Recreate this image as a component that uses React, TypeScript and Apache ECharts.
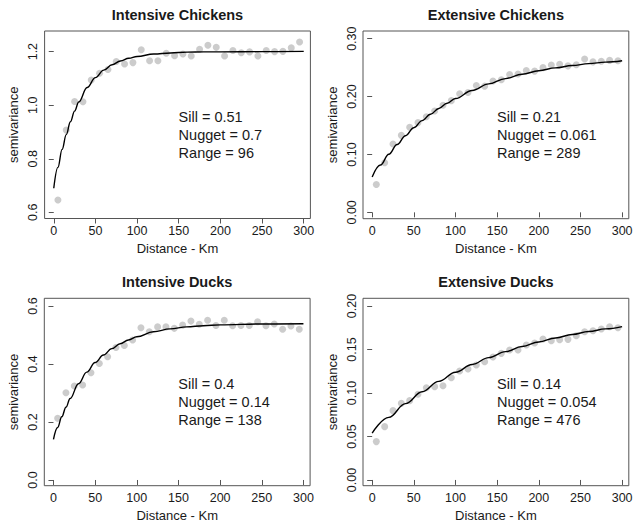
import React, { useEffect, useRef } from "react";
import * as echarts from "echarts";

const TITLES = ["Intensive Chickens", "Extensive Chickens", "Intensive Ducks", "Extensive Ducks"];
const ANNOTATIONS = [
  ["Sill = 0.51", "Nugget = 0.7", "Range = 96"],
  ["Sill = 0.21", "Nugget = 0.061", "Range = 289"],
  ["Sill = 0.4", "Nugget = 0.14", "Range = 138"],
  ["Sill = 0.14", "Nugget = 0.054", "Range = 476"],
];
const X_TICKS = [0, 50, 100, 150, 200, 250, 300];
const Y_TICKS = [
  [0.6, 0.8, 1.0, 1.2],
  [0, 0.1, 0.2, 0.3],
  [0, 0.2, 0.4, 0.6],
  [0, 0.05, 0.1, 0.15, 0.2],
];
const Y_DECIMALS = [1, 2, 1, 2];

const DIST = [5, 15, 25, 35, 45, 55, 65, 75, 85, 95, 105, 115, 125, 135, 145, 155, 165, 175, 185, 195, 205, 215, 225, 235, 245, 255, 265, 275, 285, 295];

const IC_GAMMA = [0.646, 0.907, 1.014, 1.013, 1.094, 1.119, 1.133, 1.163, 1.154, 1.159, 1.207, 1.166, 1.166, 1.194, 1.185, 1.191, 1.184, 1.209, 1.224, 1.216, 1.184, 1.204, 1.196, 1.199, 1.184, 1.204, 1.2, 1.201, 1.214, 1.236];
const EC_GAMMA = [0.048, 0.0858, 0.118, 0.133, 0.147, 0.155, 0.165, 0.175, 0.185, 0.193, 0.205, 0.207, 0.219, 0.218, 0.227, 0.229, 0.238, 0.239, 0.245, 0.244, 0.25, 0.2545, 0.256, 0.253, 0.255, 0.265, 0.26, 0.261, 0.2626, 0.262];
const ID_GAMMA = [0.2126, 0.301, 0.324, 0.3276, 0.37, 0.402, 0.425, 0.457, 0.464, 0.483, 0.525, 0.511, 0.528, 0.528, 0.523, 0.534, 0.548, 0.537, 0.551, 0.533, 0.551, 0.532, 0.533, 0.533, 0.546, 0.532, 0.538, 0.52, 0.531, 0.52];
const ED_GAMMA = [0.0441, 0.0613, 0.0797, 0.0881, 0.0912, 0.0985, 0.1061, 0.1073, 0.1084, 0.1176, 0.1253, 0.1276, 0.1322, 0.136, 0.1414, 0.1456, 0.1494, 0.1494, 0.1552, 0.1575, 0.162, 0.16, 0.1613, 0.1617, 0.1659, 0.1705, 0.1716, 0.1736, 0.1762, 0.1751];

const IC_FIT_X = [0, 5, 10, 15, 20, 25, 30, 40, 50, 60, 70, 80, 90, 100, 120, 140, 160, 180, 200, 250, 300];
const IC_FIT_Y = [0.69, 0.768, 0.835, 0.89, 0.938, 0.978, 1.012, 1.066, 1.103, 1.131, 1.151, 1.165, 1.175, 1.182, 1.191, 1.195, 1.198, 1.199, 1.199, 1.2, 1.201];
const EC_FIT_X = [0, 10, 20, 30, 40, 50, 60, 70, 80, 90, 100, 120, 140, 160, 180, 200, 220, 240, 260, 280, 300];
const EC_FIT_Y = [0.061, 0.0817, 0.1004, 0.1172, 0.1324, 0.1461, 0.1584, 0.1695, 0.1795, 0.1885, 0.1967, 0.2106, 0.2219, 0.2311, 0.2386, 0.2447, 0.2496, 0.2536, 0.2569, 0.2595, 0.262];
const ID_FIT_X = [0, 5, 10, 15, 20, 30, 40, 50, 60, 70, 80, 90, 100, 120, 140, 160, 180, 200, 250, 300];
const ID_FIT_Y = [0.14, 0.181, 0.218, 0.251, 0.281, 0.332, 0.372, 0.405, 0.431, 0.453, 0.47, 0.483, 0.494, 0.511, 0.521, 0.528, 0.532, 0.535, 0.538, 0.539];
const ED_FIT_X = [0, 20, 40, 60, 80, 100, 120, 140, 160, 180, 200, 220, 240, 260, 280, 300];
const ED_FIT_Y = [0.054, 0.072, 0.0878, 0.1014, 0.1134, 0.1238, 0.1328, 0.1407, 0.1476, 0.1535, 0.1587, 0.1633, 0.1672, 0.1707, 0.1737, 0.1763];

const GAMMAS = [IC_GAMMA, EC_GAMMA, ID_GAMMA, ED_GAMMA];
const FITS = [
  [IC_FIT_X, IC_FIT_Y],
  [EC_FIT_X, EC_FIT_Y],
  [ID_FIT_X, ID_FIT_Y],
  [ED_FIT_X, ED_FIT_Y],
];

// layout (pixels)
const GRIDS = [
  { left: 44.6, top: 31, width: 265.8, height: 187.5 },
  { left: 363, top: 31, width: 265.8, height: 187.7 },
  { left: 44.3, top: 298.3, width: 265.8, height: 187.4 },
  { left: 363, top: 298.3, width: 265.8, height: 187.4 },
];
const Y_RANGES = [
  [0.577, 1.277],
  [-0.011, 0.3133],
  [-0.0197, 0.6266],
  [-0.0066, 0.2089],
];
const X_RANGE = [-11, 308];

const FONT = '"Liberation Sans", Arial, sans-serif';
const AXIS_COLOR = "#555555";
const TEXT_COLOR = "#1a1a1a";

export default function App() {
  const ref = useRef<HTMLDivElement>(null);
  useEffect(() => {
    document.body.style.margin = "0";
    if (!ref.current) return;
    const chart = echarts.init(ref.current, null, { renderer: "svg" });

    const grid = GRIDS.map((g) => ({ ...g, show: true, borderColor: AXIS_COLOR, borderWidth: 1, backgroundColor: "transparent", containLabel: false }));

    const xAxis = GRIDS.map((_, i) => ({
      type: "value",
      gridIndex: i,
      min: X_RANGE[0],
      max: X_RANGE[1],
      axisLine: { show: false },
      splitLine: { show: false },
      axisTick: { show: true, inside: false, length: 5, customValues: X_TICKS, lineStyle: { color: AXIS_COLOR, width: 1 } },
      axisLabel: { show: true, customValues: X_TICKS, margin: 6, color: TEXT_COLOR, fontSize: 12.5, fontFamily: FONT, formatter: (v: number) => String(v) },
    }));

    const yAxis = GRIDS.map((_, i) => ({
      type: "value",
      gridIndex: i,
      min: Y_RANGES[i][0],
      max: Y_RANGES[i][1],
      axisLine: { show: false },
      splitLine: { show: false },
      axisTick: { show: true, inside: false, length: 5, customValues: Y_TICKS[i], lineStyle: { color: AXIS_COLOR, width: 1 } },
      axisLabel: {
        show: true,
        customValues: Y_TICKS[i],
        rotate: 90,
        margin: 5,
        color: TEXT_COLOR,
        fontSize: 12.5,
        fontFamily: FONT,
        formatter: (v: number) => v.toFixed(Y_DECIMALS[i]),
      },
    }));

    const series: any[] = [];
    GAMMAS.forEach((gam, i) => {
      series.push({
        type: "scatter",
        xAxisIndex: i,
        yAxisIndex: i,
        symbol: "circle",
        symbolSize: 7,
        itemStyle: { color: "#bfbfbf" },
        data: DIST.map((d, k) => [d, gam[k]]),
        z: 2,
      });
      const [fx, fy] = FITS[i];
      series.push({
        type: "line",
        xAxisIndex: i,
        yAxisIndex: i,
        showSymbol: false,
        symbol: "none",
        smooth: 0.4,
        smoothMonotone: "x",
        lineStyle: { color: "#000000", width: 1.4 },
        data: fx.map((x, k) => [x, fy[k]]),
        z: 3,
      });
    });

    const graphics: any[] = [];
    GRIDS.forEach((g, i) => {
      const cx = g.left + g.width / 2;
      const cy = g.top + g.height / 2;
      graphics.push({
        type: "text",
        x: cx,
        y: g.top - 16,
        style: { text: TITLES[i], fill: TEXT_COLOR, fontSize: 14.5, fontWeight: "bold", fontFamily: FONT, align: "center", verticalAlign: "middle" },
      });
      graphics.push({
        type: "text",
        x: cx,
        y: g.top + g.height + 30,
        style: { text: "Distance - Km", fill: TEXT_COLOR, fontSize: 13, fontFamily: FONT, align: "center", verticalAlign: "middle" },
      });
      graphics.push({
        type: "text",
        x: g.left - 31,
        y: cy,
        rotation: Math.PI / 2,
        style: { text: "semivariance", fill: TEXT_COLOR, fontSize: 13, fontFamily: FONT, align: "center", verticalAlign: "middle" },
      });
      ANNOTATIONS[i].forEach((line, k) => {
        graphics.push({
          type: "text",
          x: g.left + 134,
          y: g.top + 86 + k * 18,
          style: { text: line, fill: TEXT_COLOR, fontSize: 14.5, fontFamily: FONT, align: "left", verticalAlign: "middle" },
        });
      });
    });

    chart.setOption({
      animation: false,
      backgroundColor: "#ffffff",
      grid,
      xAxis,
      yAxis,
      series,
      graphic: graphics,
    });
    return () => chart.dispose();
  }, []);
  return <div ref={ref} style={{ width: 642, height: 530 }} />;
}
